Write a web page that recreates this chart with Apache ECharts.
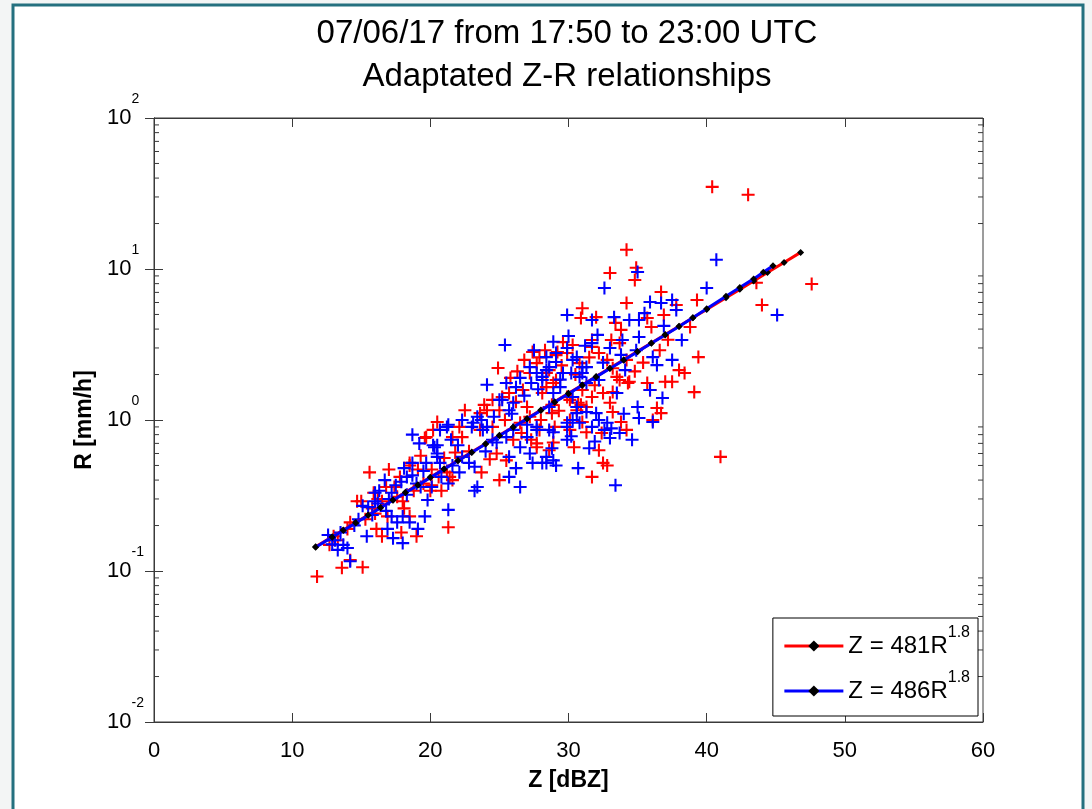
<!DOCTYPE html>
<html><head><meta charset="utf-8">
<script src="https://cdn.jsdelivr.net/npm/echarts@6/dist/echarts.min.js"></script>
<style>html,body{margin:0;padding:0;background:#fff}#c{width:1092px;height:809px}</style>
</head><body><div id="c"></div>
<script>
// ---- data ----
const titleLines = ['07/06/17 from 17:50 to 23:00 UTC', 'Adaptated Z-R relationships'];
const xName = 'Z [dBZ]';
const yName = 'R [mm/h]';
const xTicks = [0, 10, 20, 30, 40, 50, 60];
const yDecades = [0.01, 0.1, 1, 10, 100];
const legendNames = ['Z = 481R^1.8', 'Z = 486R^1.8'];

const redZ = [40.4,43.0,34.2,34.9,33.0,34.8,36.7,39.3,44.0,47.6,43.6,34.2,31.0,30.9,32.0,35.7,36.9,37.8,38.8,33.8,
  33.1,31.7,29.6,30.3,32.2,33.7,34.2,36.0,39.4,38.0,38.4,37.5,37.0,35.7,35.9,34.3,33.7,33.2,32.5,31.7,
  31.3,33.0,31.0,36.4,36.7,36.1,33.8,34.2,32.4,30.4,28.9,28.6,32.8,31.7,39.1,28.4,29.1,28.4,28.9,30.1,
  41.0,24.9,27.4,29.9,29.2,27.7,28.6,27.2,26.7,25.7,24.5,23.9,25.0,22.5,20.5,22.1,22.3,19.7,20.2,21.6,
  21.8,23.6,24.5,25.4,26.5,26.0,27.2,24.8,23.7,25.0,27.7,27.3,30.7,30.2,29.1,30.8,28.1,28.8,30.1,21.6,
  20.0,21.2,15.6,17.0,18.5,19.1,20.1,15.0,14.7,16.2,16.5,17.4,18.1,18.5,19.0,17.9,16.5,16.1,21.3,20.8,
  13.3,13.6,14.2,15.1,11.8,20.1,14.2,15.3,16.9,12.7,33.2,31.0,
  31.7,33.5,34.4,33.2,32.2,31.3,30.1,30.6,30.9,29.9,28.8,27.0,26.2,25.2,24.1,23.6,19.6,18.5,19.5,21.4,
  25.5,27.7,27.9,29.0,32.5,13.0,14.0,15.8,17.6,18.8,16.0,
  26.8,27.9,28.3,26.3,25.8,29.5,30.5,31.5,32.8,34.8,35.4,36.6,37.2,33.4,31.9,29.3,28.0,26.6,24.3,22.8,
  21.0,19.3,17.8,16.8,15.9,18.0,20.6];
const redR = [35,31,13.4,10.2,9.4,8.45,7.05,6.24,5.78,7.96,8.1,5.95,5.5,4.74,4.8,4.74,4.96,5.78,4.13,3.95,
  3.39,3.39,3.28,3.14,2.78,3.23,2.5,4.13,2.61,2.14,2.05,1.79,1.79,1.76,1.58,1.76,1.84,2.2,1.51,1.42,
  1.22,1.3,1.58,1.2,1.11,1.0,0.97,0.86,0.82,0.66,0.71,0.63,0.5,0.42,1.53,2.05,2.69,1.65,1.76,1.36,
  0.57,2.21,2.82,2.78,2.82,2.38,2.14,2.05,1.58,1.51,1.36,1.26,1.16,1.16,0.97,0.9,0.77,0.77,0.86,0.77,
  0.61,0.86,0.9,1.0,0.96,0.74,1.05,0.6,0.45,0.4,0.66,0.74,1.3,1.42,1.84,2.38,1.51,1.11,0.86,0.4,
  0.34,0.45,0.45,0.47,0.52,0.47,0.47,0.29,0.29,0.3,0.29,0.36,0.26,0.23,0.17,0.18,0.17,0.19,0.195,0.34,
  0.16,0.105,0.118,0.106,0.092,0.37,0.21,0.22,0.23,0.149,1.53,0.97,
  3.05,1.93,1.79,1.13,0.63,0.83,1.0,1.16,1.26,1.42,1.26,1.22,1.32,1.42,1.16,1.11,0.76,0.5,0.38,0.42,
  0.54,0.7,0.86,0.9,0.52,0.17,0.19,0.26,0.31,0.34,0.24,
  2.5,2.6,2.9,2.1,1.9,2.3,2.0,2.6,2.5,2.1,2.4,2.9,3.4,4.4,1.7,1.15,1.0,0.82,0.55,0.62,
  0.56,0.58,0.42,0.36,0.33,0.29,0.42];

const blueZ = [40.7,40.0,45.1,32.6,35.0,29.9,31.7,33.3,34.4,35.1,35.9,36.7,37.5,37.8,35.5,32.1,33.0,33.9,35.1,36.1,
  36.4,37.5,38.2,34.1,31.7,29.9,28.4,28.6,30.3,30.2,30.8,29.6,28.1,28.9,29.4,31.0,28.6,30.6,30.3,32.0,
  32.8,33.1,33.0,31.7,29.9,28.6,28.9,28.4,29.9,31.5,30.7,33.4,35.0,35.1,36.1,35.9,33.5,25.4,24.1,25.5,
  25.2,26.0,26.2,26.5,27.2,28.1,29.1,30.6,31.0,31.3,30.6,29.9,30.8,28.9,28.8,27.4,28.1,26.2,25.7,26.5,
  25.5,24.1,23.4,23.7,23.0,22.3,21.2,20.3,20.5,19.7,22.3,23.2,22.8,22.1,20.8,20.1,23.2,19.8,26.5,25.7,
  24.8,27.0,27.7,18.7,21.3,20.5,20.5,16.7,17.9,18.7,19.0,16.0,16.3,17.2,15.5,15.1,16.8,17.2,18.0,17.6,
  18.5,19.6,19.1,16.9,15.4,17.3,18.0,13.7,13.1,13.3,14.0,12.6,14.2,21.3,21.5,21.3,14.5,15.8,
  25.0,25.7,27.3,27.7,28.4,29.1,31.3,32.2,30.3,31.3,32.2,27.7,27.0,26.0,24.5,23.8,23.1,20.7,20.2,19.2,
  18.7,18.3,20.7,23.4,28.4,29.1,32.6,33.7,34.6,13.5,14.8,16.2,17.0,18.3,19.3,12.9,
  27.5,28.9,30.0,31.2,32.5,33.8,34.9,36.9,29.4,27.8,26.8,25.9,24.6,24.0,22.0,21.6,19.5,18.1,17.5,16.0,
  30.2,31.9,34.0,36.8,27.2];
const blueR = [11.5,7.48,4.96,7.48,9.55,4.96,4.59,4.8,4.59,4.59,6.05,5.95,6.24,5.35,5.1,3.66,3.0,3.39,3.55,2.61,
  2.31,2.5,3.39,2.14,3.23,3.0,2.61,2.24,2.5,2.05,1.93,2.05,1.84,1.51,1.65,2.24,1.22,1.11,1.0,1.11,
  0.96,0.88,0.76,0.9,0.96,0.86,0.54,0.52,0.74,0.65,0.48,0.37,1.22,1.03,0.97,1.58,1.51,3.14,1.71,1.76,
  1.36,1.3,1.65,1.9,2.24,1.93,2.78,2.61,2.05,1.76,1.22,0.9,0.96,0.83,0.65,0.52,0.52,0.48,0.57,0.66,
  0.77,0.9,1.05,1.0,0.9,1.0,0.9,0.66,0.57,0.52,0.57,0.49,0.52,0.45,0.42,0.36,0.34,0.295,0.36,0.42,
  0.71,0.77,0.86,0.8,0.93,0.68,0.6,0.4,0.39,0.43,0.38,0.33,0.34,0.33,0.265,0.27,0.25,0.23,0.23,0.21,
  0.21,0.23,0.19,0.19,0.17,0.165,0.153,0.149,0.16,0.138,0.142,0.173,0.116,0.254,0.74,0.38,0.2,0.235,
  1.36,1.16,1.76,2.05,2.14,2.42,2.24,1.84,1.42,1.13,1.0,0.9,0.93,0.86,0.74,0.86,0.96,0.86,0.68,0.7,
  0.52,0.42,0.52,0.36,0.57,0.5,0.86,0.82,0.74,0.18,0.22,0.28,0.3,0.32,0.36,0.15,
  2.9,3.3,3.6,3.1,2.4,2.7,2.9,4.2,1.85,1.6,1.45,1.1,1.05,0.62,0.68,0.5,0.46,0.48,0.37,0.29,
  0.78,0.72,1.1,1.4,0.6];

const lineRedZ = [11.7,12.9,13.7,14.6,15.5,16.4,17.3,18.2,19.1,20.0,21.0,22.0,23.0,24.0,25.0,26.0,27.0,28.0,29.0,30.0,
  31.0,32.0,33.0,34.0,35.0,36.0,37.0,38.0,39.0,40.0,41.4,42.4,43.4,44.4,45.6,46.8];
const lineRedR = [0.1445,0.1686,0.1867,0.2094,0.235,0.2637,0.2958,0.3319,0.3724,0.4179,0.475,0.54,0.613,0.697,0.792,0.9,1.023,1.163,1.321,1.502,
  1.707,1.94,2.205,2.505,2.847,3.236,3.678,4.18,4.75,5.398,6.453,7.33,8.34,9.48,11.05,12.88];
const lineBlueZ = [11.7,12.9,13.7,14.6,15.5,16.4,17.3,18.2,19.1,20.0,21.0,22.0,23.0,24.0,25.0,26.0,27.0,28.0,29.0,30.0,
  31.0,32.0,33.0,34.0,35.0,36.0,37.0,38.0,39.0,40.0,41.4,42.4,43.4,44.1,44.8];
const lineBlueR = [0.1437,0.1676,0.1856,0.2082,0.2336,0.2621,0.294,0.33,0.3702,0.4154,0.4722,0.537,0.609,0.693,0.787,0.895,1.017,1.156,1.313,1.493,
  1.697,1.93,2.195,2.49,2.83,3.22,3.66,4.16,4.75,5.45,6.6,7.55,8.6,9.5,10.5];

const minorTickValues = [];
[0.01, 0.1, 1, 10].forEach(d => { for (let m = 2; m <= 9; m++) minorTickValues.push(+(m * d).toPrecision(3)); });

// ---- chart ----
const FONT = '"Liberation Sans", Arial, Helvetica, sans-serif';
const AX = '#3a3a3a';
const plusPath = 'path://M4.2,0H5.8V4.2H10V5.8H5.8V10H4.2V5.8H0V4.2H4.2Z';
const zip = (a, b) => a.map((v, i) => [v, b[i]]);
const supLabel = (txt) => { const p = txt.split('^'); return '{a|' + p[0] + '}{e|' + p[1] + '}'; };

const chart = echarts.init(document.getElementById('c'));
chart.setOption({
  backgroundColor: '#f3f5f5',
  animation: false,
  textStyle: { fontFamily: FONT },
  graphic: [{
    type: 'rect', z: -10, silent: true,
    shape: { x: 13, y: 5, width: 1070, height: 830 },
    style: { fill: '#ffffff', stroke: '#24707f', lineWidth: 3 }
  }],
  title: {
    text: titleLines.join('\n'),
    left: 567, top: 12, padding: 0, textAlign: 'center',
    textStyle: { fontFamily: FONT, fontSize: 33, fontWeight: 'normal', color: '#000', lineHeight: 43 }
  },
  grid: { left: 154, right: 109, top: 118, bottom: 87, show: true, borderColor: AX, borderWidth: 1, backgroundColor: '#fff' },
  legend: {
    data: legendNames,
    orient: 'vertical', right: 114, bottom: 93,
    backgroundColor: '#fff', borderColor: '#000', borderWidth: 1, borderRadius: 0,
    padding: [7, 8, 13, 10], itemGap: 12, itemWidth: 59, itemHeight: 14,
    lineStyle: { width: 3 },
    formatter: supLabel,
    textStyle: {
      fontFamily: FONT, color: '#000',
      rich: {
        a: { fontFamily: FONT, fontSize: 24, color: '#000' },
        e: { fontFamily: FONT, fontSize: 16, color: '#000', padding: [0, 0, 26, 0] }
      }
    }
  },
  xAxis: [{
    type: 'value', min: 0, max: 60, interval: 10, position: 'bottom',
    name: xName, nameLocation: 'middle', nameGap: 47,
    nameTextStyle: { fontFamily: FONT, fontSize: 23, fontWeight: 'bold', color: '#000' },
    axisLine: { show: true, lineStyle: { color: AX, width: 1 } },
    axisTick: { show: true, inside: true, length: 9, lineStyle: { color: AX } },
    axisLabel: { fontFamily: FONT, fontSize: 22, color: '#000', margin: 18 },
    splitLine: { show: false }
  }, {
    type: 'value', min: 0, max: 60, interval: 10, position: 'top',
    axisLine: { show: true, lineStyle: { color: AX, width: 1 } },
    axisTick: { show: true, inside: true, length: 9, lineStyle: { color: AX } },
    axisLabel: { show: false }, splitLine: { show: false }
  }],
  yAxis: [{
    type: 'log', logBase: 10, min: yDecades[0], max: yDecades[yDecades.length - 1], position: 'left',
    name: yName, nameLocation: 'middle', nameGap: 54,
    nameTextStyle: { fontFamily: FONT, fontSize: 23, fontWeight: 'bold', color: '#000' },
    axisLine: { show: true, lineStyle: { color: AX, width: 1 } },
    axisTick: { show: true, inside: true, length: 9, lineStyle: { color: AX } },
    axisLabel: {
      align: 'left', margin: 47, color: '#000',
      formatter: v => '{a|10}{e|' + Math.round(Math.log10(v)) + '}',
      rich: {
        a: { fontFamily: FONT, fontSize: 22, color: '#000' },
        e: { fontFamily: FONT, fontSize: 14, color: '#000', padding: [0, 0, 38, 0] }
      }
    },
    splitLine: { show: false }
  }, {
    type: 'log', logBase: 10, min: yDecades[0], max: yDecades[yDecades.length - 1], position: 'right',
    axisLine: { show: true, lineStyle: { color: AX, width: 1 } },
    axisTick: { show: true, inside: true, length: 9, lineStyle: { color: AX } },
    axisLabel: { show: false }, splitLine: { show: false }
  }],
  series: [{
    type: 'custom', name: 'minorTicks', silent: true, clip: false, z: 1,
    data: minorTickValues.map(v => [0, v]),
    renderItem: (params, api) => {
      const v = api.value(1);
      const l = api.coord([0, v]);
      const r = api.coord([60, v]);
      return { type: 'group', children: [
        { type: 'line', shape: { x1: l[0], y1: l[1], x2: l[0] + 5, y2: l[1] }, style: { stroke: AX, lineWidth: 1 } },
        { type: 'line', shape: { x1: r[0] - 5, y1: r[1], x2: r[0], y2: r[1] }, style: { stroke: AX, lineWidth: 1 } }
      ]};
    }
  }, {
    type: 'scatter', name: 'red data', symbol: plusPath, symbolSize: 13,
    itemStyle: { color: '#ff0000', opacity: 1 }, data: zip(redZ, redR), z: 2
  }, {
    type: 'scatter', name: 'blue data', symbol: plusPath, symbolSize: 13,
    itemStyle: { color: '#0000ff', opacity: 1 }, data: zip(blueZ, blueR), z: 3
  }, {
    type: 'line', name: legendNames[0], data: zip(lineRedZ, lineRedR), z: 4,
    symbol: 'diamond', symbolSize: 7, showSymbol: true, showAllSymbol: true,
    lineStyle: { color: '#ff0000', width: 3 }, itemStyle: { color: '#000' }
  }, {
    type: 'line', name: legendNames[1], data: zip(lineBlueZ, lineBlueR), z: 5,
    symbol: 'diamond', symbolSize: 7, showSymbol: true, showAllSymbol: true,
    lineStyle: { color: '#0000ff', width: 3 }, itemStyle: { color: '#000' }
  }]
});
</script>
</body></html>
